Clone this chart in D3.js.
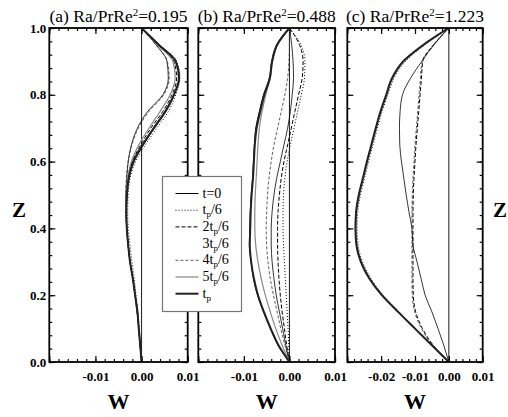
<!DOCTYPE html>
<html>
<head>
<meta charset="utf-8">
<script src="https://cdn.jsdelivr.net/npm/d3@7"></script>
<style>
  body { margin: 0; background: #fff; }
  svg { display: block; }
</style>
</head>
<body>
<svg id="chart" width="508" height="417"></svg>
<script>
// Vertical positions Z shared by every profile
const zLevels = [0, 0.05, 0.10, 0.15, 0.20, 0.25, 0.30, 0.35, 0.40, 0.45, 0.50,
                 0.55, 0.60, 0.65, 0.70, 0.75, 0.80, 0.85, 0.90, 0.95, 1.0];

// Legend labels: [prefix, subscript, suffix]
const timeLabels = [["t=0", "", ""], ["t", "p", "/6"], ["2t", "p", "/6"], ["3t", "p", "/6"],
                    ["4t", "p", "/6"], ["5t", "p", "/6"], ["t", "p", ""]];

// Panel titles (Ra/PrRe^2 values)
const panelValues = ["0.195", "0.488", "1.223"];
const panelLetters = ["(a)", "(b)", "(c)"];

// W profiles, units of 1e-3, listed from Z=0 to Z=1
// (a) Ra/PrRe2 = 0.195
const a0 = [0, -0.3, -0.6, -0.9, -1.4, -1.9, -2.5, -2.9, -3.2, -3.3, -3.1, -2.7, -1.6, 0.4, 2.8, 5.3, 7.1, 8.2, 7.5, 3.8, 0];
const a1 = [0, -0.2, -0.5, -0.8, -1.2, -1.6, -2.1, -2.5, -2.9, -3.0, -2.9, -2.5, -1.3, 0.8, 3.3, 5.8, 7.4, 8.3, 7.6, 3.9, 0];
const a2 = [0, -0.3, -0.6, -1.0, -1.4, -1.9, -2.5, -2.9, -3.2, -3.3, -3.2, -2.9, -2.0, -0.2, 2.0, 4.6, 6.6, 7.6, 7.0, 3.5, 0];
const a3 = [0, -0.3, -0.6, -0.9, -1.4, -1.9, -2.5, -2.9, -3.2, -3.4, -3.4, -3.2, -2.9, -2.2, -0.9, 1.3, 4.6, 5.8, 5.5, 3.1, 0];
const a4 = [0, -0.3, -0.6, -0.9, -1.4, -1.9, -2.5, -2.9, -3.2, -3.4, -3.4, -3.3, -2.9, -2.1, -0.7, 1.6, 4.8, 6.0, 5.6, 3.1, 0];
const a5 = [0, -0.3, -0.6, -0.9, -1.4, -1.9, -2.5, -2.9, -3.2, -3.3, -3.3, -3.0, -2.2, -0.6, 1.6, 4.0, 6.2, 7.3, 6.8, 3.4, 0];
const a6 = [0, -0.3, -0.6, -0.9, -1.4, -1.9, -2.5, -2.9, -3.2, -3.3, -3.2, -2.8, -1.8, 0.2, 2.6, 5.1, 7.0, 8.1, 7.4, 3.7, 0];

// (b) Ra/PrRe2 = 0.488
const b0 = [0, -2.5, -4.2, -5.7, -7.0, -7.9, -8.4, -8.8, -8.7, -8.6, -8.4, -8.1, -7.9, -7.7, -7.4, -6.6, -5.7, -4.4, -3.9, -2.8, 0];
const b1 = [0, -0.15, -0.3, -0.5, -0.7, -0.9, -1.1, -1.3, -1.4, -1.4, -1.3, -1.0, -0.5, 0.2, 1.0, 1.8, 2.6, 3.3, 3.4, 2.5, 0];
const b2 = [0, -0.6, -1.1, -1.6, -2.0, -2.3, -2.5, -2.6, -2.6, -2.5, -2.2, -1.8, -1.2, -0.4, 0.4, 1.2, 2.0, 2.8, 3.0, 2.2, 0];
const b3 = [0, -0.8, -1.5, -2.2, -2.9, -3.4, -3.8, -4.0, -4.0, -3.8, -3.4, -2.8, -2.0, -1.2, -0.4, 0.2, 0.6, 0.9, 0.8, 0.5, 0];
const b4 = [0, -1.0, -1.9, -2.7, -3.5, -4.2, -4.7, -5.0, -5.1, -5.0, -4.8, -4.5, -4.0, -3.4, -2.6, -1.8, -1.0, -0.4, -0.1, 0.0, 0];
const b5 = [0, -1.6, -3.0, -4.2, -5.3, -6.2, -6.9, -7.4, -7.6, -7.6, -7.5, -7.3, -7.1, -6.9, -6.6, -6.0, -5.2, -4.2, -3.7, -2.6, 0];
const b6 = [0, -2.4, -4.1, -5.6, -6.9, -7.8, -8.4, -8.7, -8.6, -8.5, -8.3, -8.0, -7.8, -7.6, -7.2, -6.4, -5.5, -4.3, -3.8, -2.7, 0];

// (c) Ra/PrRe2 = 1.223
const c0 = [0, -5.0, -10.0, -15.0, -19.8, -23.5, -26.0, -27.3, -27.6, -27.4, -26.6, -25.4, -24.2, -22.9, -21.6, -20.2, -18.5, -16.8, -13.5, -7.5, 0];
const c1 = [0, -4.9, -9.8, -14.7, -19.4, -23.0, -25.5, -26.8, -27.1, -26.9, -26.1, -24.9, -23.7, -22.4, -21.1, -19.7, -18.0, -16.2, -12.8, -7.0, 0];
const c2 = [0, -4.6, -7.8, -9.8, -10.5, -10.6, -10.6, -10.6, -10.6, -10.6, -10.5, -10.3, -10.0, -9.7, -9.3, -8.9, -8.5, -8.1, -7.7, -4.4, 0];
const c3 = [0, -1.5, -3.2, -5.0, -7.0, -8.2, -9.4, -10.6, -10.9, -11.8, -12.6, -13.3, -14.0, -14.5, -14.6, -14.4, -13.7, -11.3, -8.0, -4.4, 0];
const c4 = [0, -4.8, -8.1, -10.1, -10.8, -10.9, -10.9, -10.9, -10.9, -10.9, -10.8, -10.6, -10.3, -10.0, -9.6, -9.2, -8.8, -8.4, -7.9, -4.6, 0];
const c5 = [0, -5.0, -10.0, -14.9, -19.6, -23.3, -25.8, -27.1, -27.4, -27.2, -26.4, -25.2, -24.0, -22.7, -21.4, -20.0, -18.3, -16.5, -13.2, -7.2, 0];
const c6 = [0, -5.0, -10.0, -15.0, -19.8, -23.5, -26.0, -27.3, -27.6, -27.4, -26.6, -25.4, -24.2, -22.9, -21.6, -20.2, -18.5, -16.8, -13.5, -7.5, 0];

// Axis ranges and labelled ticks
const wDomains = [[-0.02, 0.01], [-0.02, 0.01], [-0.03, 0.01]];
const wLabels = [[-0.01, 0, 0.01], [-0.01, 0, 0.01], [-0.02, -0.01, 0, 0.01]];
const zLabels = [0, 0.2, 0.4, 0.6, 0.8, 1.0];

// Line style for each time step
const lineStyles = [
    {stroke: "#000", width: 1.0, dash: null},
    {stroke: "#000", width: 1.0, dash: "1,2"},
    {stroke: "#000", width: 1.0, dash: "4,2"},
    {stroke: "#000", width: 0.8, dash: null, noSample: true},
    {stroke: "#333", width: 0.8, dash: "3,2"},
    {stroke: "#888", width: 1.2, dash: null},
    {stroke: "#222", width: 2.0, dash: null}
];

const series = [[a0, a1, a2, a3, a4, a5, a6], [b0, b1, b2, b3, b4, b5, b6], [c0, c1, c2, c3, c4, c5, c6]];

// Layout
const plotTop = 28, plotBottom = 362;
const panelX = [[49.3, 187.7], [198.3, 335], [347.3, 482.7]];
const serif = "Liberation Serif, Times New Roman, Times, serif";

const svg = d3.select("#chart");
const y = d3.scaleLinear().domain([0, 1]).range([plotBottom, plotTop]);

const fmtW = d => d === 0 ? "0.00" : d.toFixed(2);

panelX.forEach((px, p) => {
    const x = d3.scaleLinear().domain(wDomains[p]).range(px);
    const g = svg.append("g");
    const [d0, d1] = wDomains[p];

    // tick sets
    const wMajor = d3.range(Math.round(d0 * 100), Math.round(d1 * 100) + 1).map(k => k / 100);
    const wMinor = d3.range(Math.round(d0 * 500), Math.round(d1 * 500) + 1).map(k => k / 500);
    const zMajor = zLabels;
    const zMinor = d3.range(0, 26).map(k => k * 0.04);

    const clipId = "clip" + p;
    svg.append("clipPath").attr("id", clipId)
        .append("rect")
        .attr("x", px[0]).attr("y", plotTop)
        .attr("width", px[1] - px[0]).attr("height", plotBottom - plotTop);

    // inward ticks on all four sides
    const addAxis = (axis, transform) => {
        const a = g.append("g").attr("transform", transform).call(axis);
        a.attr("font-family", serif);
        a.select(".domain").remove();
        a.selectAll(".tick line").attr("stroke", "#000").attr("stroke-width", 1.2);
        return a;
    };
    addAxis(d3.axisBottom(x).tickValues(wMinor).tickSize(-3).tickFormat(""), `translate(0,${plotBottom})`);
    addAxis(d3.axisTop(x).tickValues(wMinor).tickSize(-3).tickFormat(""), `translate(0,${plotTop})`);
    addAxis(d3.axisTop(x).tickValues(wMajor).tickSize(-6).tickFormat(""), `translate(0,${plotTop})`);
    const bottom = addAxis(d3.axisBottom(x).tickValues(wMajor).tickSize(-6).tickPadding(10)
        .tickFormat(d => wLabels[p].some(v => Math.abs(v - d) < 1e-9) ? fmtW(d) : ""),
        `translate(0,${plotBottom})`);
    bottom.selectAll("text")
        .attr("font-size", 13).attr("font-weight", "bold");

    addAxis(d3.axisLeft(y).tickValues(zMinor).tickSize(-3).tickFormat(""), `translate(${px[0]},0)`);
    addAxis(d3.axisRight(y).tickValues(zMinor).tickSize(-3).tickFormat(""), `translate(${px[1]},0)`);
    addAxis(d3.axisRight(y).tickValues(zMajor).tickSize(-6).tickFormat(""), `translate(${px[1]},0)`);
    const left = addAxis(d3.axisLeft(y).tickValues(zMajor).tickSize(-6).tickPadding(3)
        .tickFormat(p === 0 ? d3.format(".1f") : ""), `translate(${px[0]},0)`);
    left.selectAll("text")
        .attr("font-size", 13).attr("font-weight", "bold");

    // W = 0 reference line
    g.append("line")
        .attr("x1", x(0)).attr("x2", x(0))
        .attr("y1", plotTop).attr("y2", plotBottom)
        .attr("stroke", "#000").attr("stroke-width", 0.9);

    // profiles
    const line = d3.line()
        .x(d => x(d.w))
        .y(d => y(d.z))
        .curve(d3.curveMonotoneY);

    g.append("g").attr("clip-path", `url(#${clipId})`)
        .selectAll("path")
        .data(series[p])
        .join("path")
        .attr("d", vals => line(zLevels.map((z, i) => ({z: z, w: vals[i] * 1e-3}))))
        .attr("fill", "none")
        .attr("stroke", (d, i) => lineStyles[i].stroke)
        .attr("stroke-width", (d, i) => lineStyles[i].width)
        .attr("stroke-dasharray", (d, i) => lineStyles[i].dash);

    // frame
    g.append("rect")
        .attr("x", px[0]).attr("y", plotTop)
        .attr("width", px[1] - px[0]).attr("height", plotBottom - plotTop)
        .attr("fill", "none").attr("stroke", "#000").attr("stroke-width", 1.8);

    // title
    const title = svg.append("text")
        .attr("x", (px[0] + px[1]) / 2).attr("y", 22)
        .attr("text-anchor", "middle")
        .attr("textLength", 138).attr("lengthAdjust", "spacingAndGlyphs")
        .attr("font-family", serif).attr("font-size", 16);
    title.append("tspan").text(panelLetters[p] + " Ra/PrRe");
    title.append("tspan").attr("dy", -6).attr("font-size", 10).text("2");
    title.append("tspan").attr("dy", 6).text("=" + panelValues[p]);

    // W label
    svg.append("text")
        .attr("x", (px[0] + px[1]) / 2).attr("y", 409)
        .attr("text-anchor", "middle")
        .attr("font-family", serif).attr("font-size", 22).attr("font-weight", "bold")
        .text("W");
});

// Z labels
[[19, "middle"], [493, "start"]].forEach(([zx, anchor]) => {
    svg.append("text")
        .attr("x", zx).attr("y", 217)
        .attr("text-anchor", anchor)
        .attr("font-family", serif).attr("font-size", 21).attr("font-weight", "bold")
        .text("Z");
});

// Legend
const legend = svg.append("g").attr("transform", "translate(162.5,176.5)");
legend.append("rect")
    .attr("width", 79).attr("height", 135)
    .attr("fill", "#fff").attr("stroke", "#777").attr("stroke-width", 1.2);

const rows = legend.selectAll("g.row")
    .data(timeLabels)
    .join("g")
    .attr("class", "row")
    .attr("transform", (d, i) => `translate(0,${17 + i * 16.7})`);

rows.filter((d, i) => !lineStyles[i].noSample)
    .append("line")
    .attr("x1", 13).attr("x2", 36)
    .attr("stroke", d => lineStyles[timeLabels.indexOf(d)].stroke)
    .attr("stroke-width", d => lineStyles[timeLabels.indexOf(d)].width)
    .attr("stroke-dasharray", d => lineStyles[timeLabels.indexOf(d)].dash);

const label = rows.append("text")
    .attr("x", 40).attr("y", 4)
    .attr("font-family", serif).attr("font-size", 14);
label.append("tspan").text(d => d[0]);
label.append("tspan").attr("dy", 3).attr("font-size", 9).text(d => d[1]);
label.append("tspan").attr("dy", -3).text(d => d[2]);
</script>
</body>
</html>
